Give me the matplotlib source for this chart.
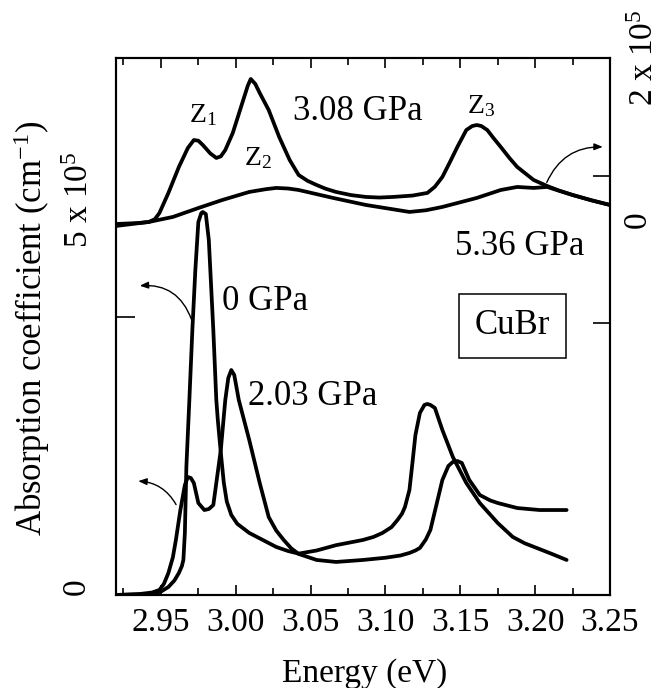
import numpy as np
import matplotlib
matplotlib.use("Agg")
import matplotlib.pyplot as plt
from matplotlib.ticker import MultipleLocator, FormatStrFormatter

plt.rcParams['font.family'] = ['Liberation Serif', 'DejaVu Serif']
plt.rcParams['mathtext.fontset'] = 'custom'
plt.rcParams['mathtext.rm'] = 'Liberation Serif'
plt.rcParams['mathtext.it'] = 'Liberation Serif:italic'

# left axis curves (units of 1e5 cm^-1)
e_0gpa = [2.920, 2.935, 2.943, 2.950, 2.955, 2.959, 2.962, 2.964, 2.965, 2.966,
          2.967, 2.969, 2.971, 2.973, 2.975, 2.977, 2.978, 2.980, 2.982, 2.985,
          2.987, 2.988, 2.990, 2.992, 2.994, 2.997, 3.001, 3.009, 3.018, 3.027,
          3.035, 3.042, 3.054, 3.067, 3.077, 3.085, 3.092, 3.098, 3.104, 3.108,
          3.111, 3.113, 3.116, 3.118, 3.120, 3.123, 3.126, 3.128, 3.130, 3.133,
          3.138, 3.145, 3.154, 3.163, 3.175, 3.185, 3.193, 3.201, 3.211, 3.221]
a_0gpa = [0.000, 0.004, 0.009, 0.030, 0.072, 0.130, 0.198, 0.260, 0.315, 0.558,
          1.151, 1.754, 2.383, 2.923, 3.354, 3.435, 3.444, 3.426, 3.192, 2.383,
          1.754, 1.574, 1.280, 1.010, 0.840, 0.720, 0.640, 0.558, 0.495, 0.432,
          0.395, 0.372, 0.400, 0.448, 0.474, 0.495, 0.522, 0.558, 0.610, 0.674,
          0.730, 0.791, 0.944, 1.187, 1.439, 1.637, 1.709, 1.718, 1.709, 1.682,
          1.484, 1.241, 1.007, 0.827, 0.647, 0.522, 0.465, 0.423, 0.370, 0.315]

e_203gpa = [2.920, 2.936, 2.944, 2.949, 2.952, 2.955, 2.958, 2.960, 2.963, 2.966,
            2.968, 2.970, 2.972, 2.975, 2.979, 2.982, 2.985, 2.987, 2.990, 2.993,
            2.995, 2.997, 2.999, 3.002, 3.009, 3.016, 3.022, 3.027, 3.032, 3.037,
            3.042, 3.054, 3.067, 3.085, 3.100, 3.110, 3.116, 3.120, 3.123, 3.127,
            3.130, 3.134, 3.138, 3.142, 3.145, 3.148, 3.151, 3.156, 3.163, 3.170,
            3.175, 3.188, 3.203, 3.221]
a_203gpa = [0.000, 0.009, 0.022, 0.045, 0.100, 0.198, 0.340, 0.495, 0.764, 0.989,
            1.061, 1.052, 1.007, 0.827, 0.764, 0.773, 0.809, 1.007, 1.304, 1.754,
            1.951, 2.023, 1.978, 1.754, 1.394, 1.007, 0.701, 0.580, 0.495, 0.420,
            0.369, 0.315, 0.297, 0.315, 0.335, 0.355, 0.378, 0.400, 0.423, 0.500,
            0.585, 0.809, 1.034, 1.160, 1.196, 1.205, 1.187, 1.034, 0.899, 0.850,
            0.827, 0.782, 0.764, 0.764]

# right axis curves
e_308gpa = [2.920, 2.935, 2.942, 2.946, 2.949, 2.955, 2.962, 2.968, 2.972, 2.975,
            2.978, 2.983, 2.987, 2.990, 2.993, 2.998, 3.005, 3.008, 3.010, 3.013,
            3.016, 3.022, 3.029, 3.036, 3.042, 3.048, 3.054, 3.060, 3.067, 3.077,
            3.087, 3.096, 3.105, 3.118, 3.128, 3.133, 3.138, 3.143, 3.148, 3.154,
            3.158, 3.161, 3.164, 3.168, 3.172, 3.177, 3.183, 3.188, 3.199, 3.208,
            3.216, 3.225, 3.238, 3.250]
a_308gpa = [0.010, 0.020, 0.031, 0.060, 0.122, 0.327, 0.592, 0.786, 0.867, 0.860,
            0.816, 0.730, 0.684, 0.700, 0.765, 0.939, 1.276, 1.420, 1.490, 1.440,
            1.347, 1.173, 0.898, 0.663, 0.510, 0.450, 0.408, 0.370, 0.337, 0.305,
            0.286, 0.280, 0.286, 0.300, 0.327, 0.390, 0.490, 0.640, 0.796, 0.969,
            1.010, 1.020, 1.010, 0.969, 0.890, 0.796, 0.680, 0.592, 0.459, 0.398,
            0.350, 0.306, 0.250, 0.204]

e_536gpa = [2.920, 2.942, 2.958, 2.975, 2.991, 3.009, 3.020, 3.027, 3.035, 3.042,
            3.065, 3.087, 3.105, 3.116, 3.127, 3.138, 3.161, 3.177, 3.188, 3.199,
            3.208, 3.225, 3.238, 3.250]
a_536gpa = [-0.010, 0.031, 0.082, 0.173, 0.255, 0.337, 0.365, 0.378, 0.372, 0.357,
            0.276, 0.204, 0.160, 0.133, 0.150, 0.184, 0.276, 0.357, 0.388, 0.378,
            0.388, 0.306, 0.250, 0.204]

xtick_vals = [2.95, 3.00, 3.05, 3.10, 3.15, 3.20, 3.25]

fig = plt.figure(figsize=(6.61, 6.88), dpi=100)
ax = fig.add_axes([0.1755, 0.1352, 0.7474, 0.7805])
ax2 = ax.twinx()

lw = 2.7
style = dict(color='black', lw=lw, solid_joinstyle='round', solid_capstyle='round')
ax.plot(e_0gpa, a_0gpa, **style)
ax.plot(e_203gpa, a_203gpa, **style)
ax2.plot(e_308gpa, a_308gpa, **style)
ax2.plot(e_536gpa, a_536gpa, **style)

ax.set_xlim(2.92, 3.25)
ax.set_ylim(0, 4.829)
ax2.set_ylim(-3.776, 1.704)

ax.set_xticks(xtick_vals)
ax.xaxis.set_major_formatter(FormatStrFormatter('%.2f'))
ax.xaxis.set_minor_locator(MultipleLocator(0.025))
ax.tick_params(axis='x', which='major', direction='in', top=True, length=7,
               width=1.2, labelsize=24, pad=9)
ax.tick_params(axis='x', which='minor', direction='in', top=True, length=5, width=1.2)

ax.set_yticks([0, 2.5])
ax.set_yticklabels([])
ax.tick_params(axis='y', direction='in', length=14, width=1.2, right=False)
ax2.set_yticks([-1.0, 0.5])
ax2.set_yticklabels([])
ax2.tick_params(axis='y', direction='in', length=12, width=1.2)

for a in (ax, ax2):
    for s in a.spines.values():
        s.set_linewidth(1.5)

ax.set_xlabel('Energy (eV)', fontsize=24)
ax.xaxis.set_label_coords(0.504, -0.118)
ax.set_ylabel('Absorption coefficient (cm$^{-1}$)', fontsize=25)
ax.yaxis.set_label_coords(-0.13, 0.497)

# axis value labels
ax.text(-0.079, 0.015, '0', transform=ax.transAxes, rotation=90,
        ha='center', va='center', fontsize=24)
ax.text(-0.073, 0.736, '5 x 10$^5$', transform=ax.transAxes, rotation=90,
        ha='center', va='center', fontsize=24)
ax.text(1.055, 0.698, '0', transform=ax.transAxes, rotation=90,
        ha='center', va='center', fontsize=24)
ax.text(1.071, 1.0, '2 x 10$^5$', transform=ax.transAxes, rotation=90,
        ha='center', va='center', fontsize=24)

# curve labels
tf = ax.transAxes
ax.text(0.358, 0.885, '3.08 GPa', transform=tf, fontsize=25, va='baseline')
ax.text(0.148, 0.881, 'Z$_1$', transform=tf, fontsize=20, va='baseline')
ax.text(0.259, 0.801, 'Z$_2$', transform=tf, fontsize=20, va='baseline')
ax.text(0.711, 0.898, 'Z$_3$', transform=tf, fontsize=20, va='baseline')
ax.text(0.686, 0.633, '5.36 GPa', transform=tf, fontsize=25, va='baseline')
ax.text(0.215, 0.531, '0 GPa', transform=tf, fontsize=25, va='baseline')
ax.text(0.267, 0.354, '2.03 GPa', transform=tf, fontsize=25, va='baseline')
ax.text(0.802, 0.501, 'CuBr', transform=tf, fontsize=25, ha='center', va='center',
        bbox=dict(boxstyle='square,pad=0.45', fc='white', ec='black', lw=1.1))

# arrows pointing to the axes each curve uses
arrow = dict(arrowstyle='-|>,head_length=0.5,head_width=0.2', color='black', lw=1.0)
ax.annotate('', xy=(2.934, 2.779), xytext=(2.971, 2.455),
            arrowprops=dict(connectionstyle='arc3,rad=0.4', **arrow))
ax.annotate('', xy=(2.933, 1.025), xytext=(2.961, 0.791),
            arrowprops=dict(connectionstyle='arc3,rad=0.3', **arrow))
ax2.annotate('', xy=(3.247, 0.796), xytext=(3.207, 0.408),
             arrowprops=dict(connectionstyle='arc3,rad=-0.35', **arrow))

fig.savefig('out.png', dpi=100)
